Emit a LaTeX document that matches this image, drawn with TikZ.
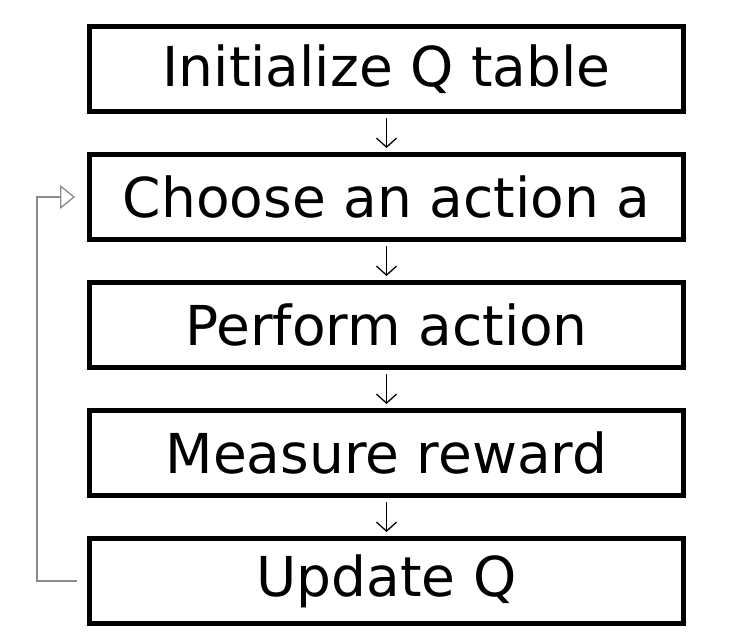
\documentclass[tikz,border=0pt]{standalone}
\usepackage{fontspec}
\setmainfont{DejaVu Sans}
\usetikzlibrary{positioning,arrows.meta}
\definecolor{LoopGray}{RGB}{140,140,140}

\begin{document}
\begin{tikzpicture}[
node distance=38pt,
box/.style={rectangle,draw=black,line width=5pt,fill=white,
minimum width=594pt,minimum height=85pt,inner sep=0pt,
font=\fontsize{55}{64}\selectfont},
arrow/.style={-{Straight Barb[length=9pt,width=20pt,line width=1.3pt]},line width=1.3pt,draw=black,
shorten <=4pt,shorten >=4pt},
loop/.style={-{Triangle[open,length=15pt,width=24pt,line width=1.3pt]},line width=1.3pt,draw=LoopGray}
]
\useasboundingbox (0,0) rectangle (736pt,-643pt);
\node[box] (init) at (386.5pt,-69pt) {Initialize Q table};
\node[box,below=of init] (choose) {Choose an action a};
\node[box,below=of choose] (perform) {Perform action};
\node[box,below=of perform] (measure) {Measure reward};
\node[box,below=of measure] (update) {Update Q};
\draw[arrow] (init)--(choose); \draw[arrow] (choose)--(perform);
\draw[arrow] (perform)--(measure); \draw[arrow] (measure)--(update);
% loop back to choosing
\draw[loop] ([xshift=-10pt]update.west) -- ++(-40pt,0) |- ([xshift=-12pt]choose.west);
\end{tikzpicture}
\end{document}
